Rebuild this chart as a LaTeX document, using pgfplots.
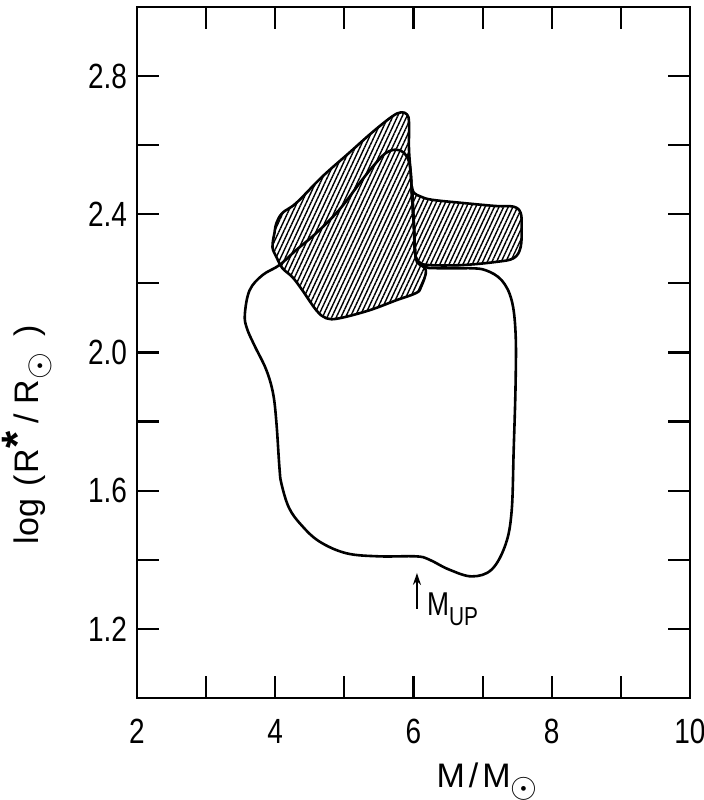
\documentclass[border=0pt]{standalone}
\usepackage{fontspec}
\setmainfont{Liberation Sans}
\newfontfamily\tickfont{Liberation Sans}[FakeStretch=0.8]
\usepackage{pgfplots}
\pgfplotsset{compat=1.18}
\usetikzlibrary{patterns.meta,arrows.meta}

\pgfplotstableread{
x y
6.324 2.244
6.800 2.244
7.045 2.238
7.276 2.209
7.420 2.151
7.477 2.055
7.477 1.910
7.449 1.715
7.420 1.541
7.333 1.445
7.132 1.372
6.843 1.352
6.512 1.372
6.223 1.401
6.036 1.410
5.503 1.410
5.027 1.419
4.638 1.453
4.380 1.500
4.200 1.550
4.090 1.620
4.061 1.666
4.018 1.794
3.970 1.880
3.870 1.950
3.700 2.020
3.590 2.070
3.560 2.110
3.629 2.180
3.816 2.224
4.061 2.253
4.306 2.297
4.595 2.346
4.926 2.413
5.258 2.500
5.459 2.549
5.604 2.578
5.748 2.587
5.863 2.578
5.935 2.552
5.964 2.509
5.978 2.451
6.007 2.363
6.022 2.297
6.050 2.267
6.180 2.247
6.324 2.244
6.800 2.244
}\bigcontour

\pgfplotstableread{
x y
3.989 2.346
4.018 2.375
4.104 2.404
4.306 2.433
4.681 2.509
5.070 2.578
5.402 2.637
5.690 2.683
5.820 2.695
5.906 2.689
5.935 2.666
5.935 2.587
5.964 2.509
5.978 2.451
6.007 2.363
6.022 2.297
6.050 2.262
6.180 2.238
6.108 2.189
6.036 2.172
5.748 2.151
5.359 2.122
4.926 2.099
4.739 2.099
4.595 2.122
4.393 2.180
4.249 2.218
4.104 2.244
4.018 2.276
3.960 2.305
3.989 2.346
}\hatchmain

\pgfplotstableread{
x y
5.978 2.480
6.007 2.462
6.108 2.451
6.267 2.442
6.699 2.433
7.189 2.424
7.449 2.422
7.550 2.404
7.564 2.363
7.550 2.305
7.449 2.273
7.189 2.262
6.699 2.253
6.223 2.253
6.079 2.262
6.022 2.288
6.007 2.363
5.993 2.427
5.978 2.480
}\hatchlobe

\begin{document}
\begin{tikzpicture}
\begin{axis}[
  scale only axis, width=276.5pt, height=345.5pt,
  xmin=2, xmax=10, ymin=1, ymax=3,
  xtick={2,4,6,8,10}, xticklabels={2,4,6,8,10},
  minor xtick={3,5,7,9},
  ytick={1.2,1.6,2.0,2.4,2.8}, yticklabels={1.2,1.6,2.0,2.4,2.8},
  minor ytick={1.4,1.8,2.2,2.6},
  major tick length=11pt, minor tick length=11pt,
  every tick/.style={line width=1.1pt, black},
  axis line style={line width=1.2pt},
  ticklabel style={font=\tickfont\fontsize{17.5}{18}\selectfont},
  xticklabel style={yshift=-7pt},
  yticklabel style={xshift=-1.5pt},
  xlabel={M\kern2pt/\kern2pt M\raisebox{-5pt}{$\odot$}},
  ylabel={log\hspace{6pt}(\hspace{1pt}R\raisebox{3pt}{\fontsize{22}{22}\selectfont\bfseries *}\hspace{4pt}/\hspace{5pt}R\raisebox{-5pt}{$\odot$}\hspace{8pt})},
  every axis x label/.style={at={(axis description cs:0.633,-0.129)}, anchor=base, font=\fontsize{17}{18}\selectfont},
  every axis y label/.style={at={(axis description cs:-0.199,0.381)}, anchor=center, rotate=90, font=\fontsize{17}{18}\selectfont},
]
\addplot[line width=1.3pt, smooth, tension=0.6, line join=round,
  pattern={Lines[angle=65,distance=2.1pt,line width=0.7pt]}] table {\hatchmain} -- cycle;
\addplot[line width=1.3pt, smooth, tension=0.6, line join=round,
  pattern={Lines[angle=65,distance=2.1pt,line width=0.7pt]}] table {\hatchlobe} -- cycle;
\addplot[line width=1.3pt, smooth, tension=0.6, line join=round] table {\bigcontour};
\draw[line width=0.9pt, -{Stealth[length=6pt,width=4pt]}] (axis cs:6.05,1.258) -- (axis cs:6.05,1.362);
\node[anchor=base west, inner sep=0pt, font=\tickfont\fontsize{16.5}{17}\selectfont] at (axis cs:6.19,1.24) {M\raisebox{-5pt}{\fontsize{13}{13}\selectfont UP}};
\end{axis}
\pgfresetboundingbox
\path[use as bounding box] ([shift={(-68.5pt,-51pt)}]current axis.south west) rectangle ([shift={(7pt,3.5pt)}]current axis.north east);
\end{tikzpicture}
\end{document}
